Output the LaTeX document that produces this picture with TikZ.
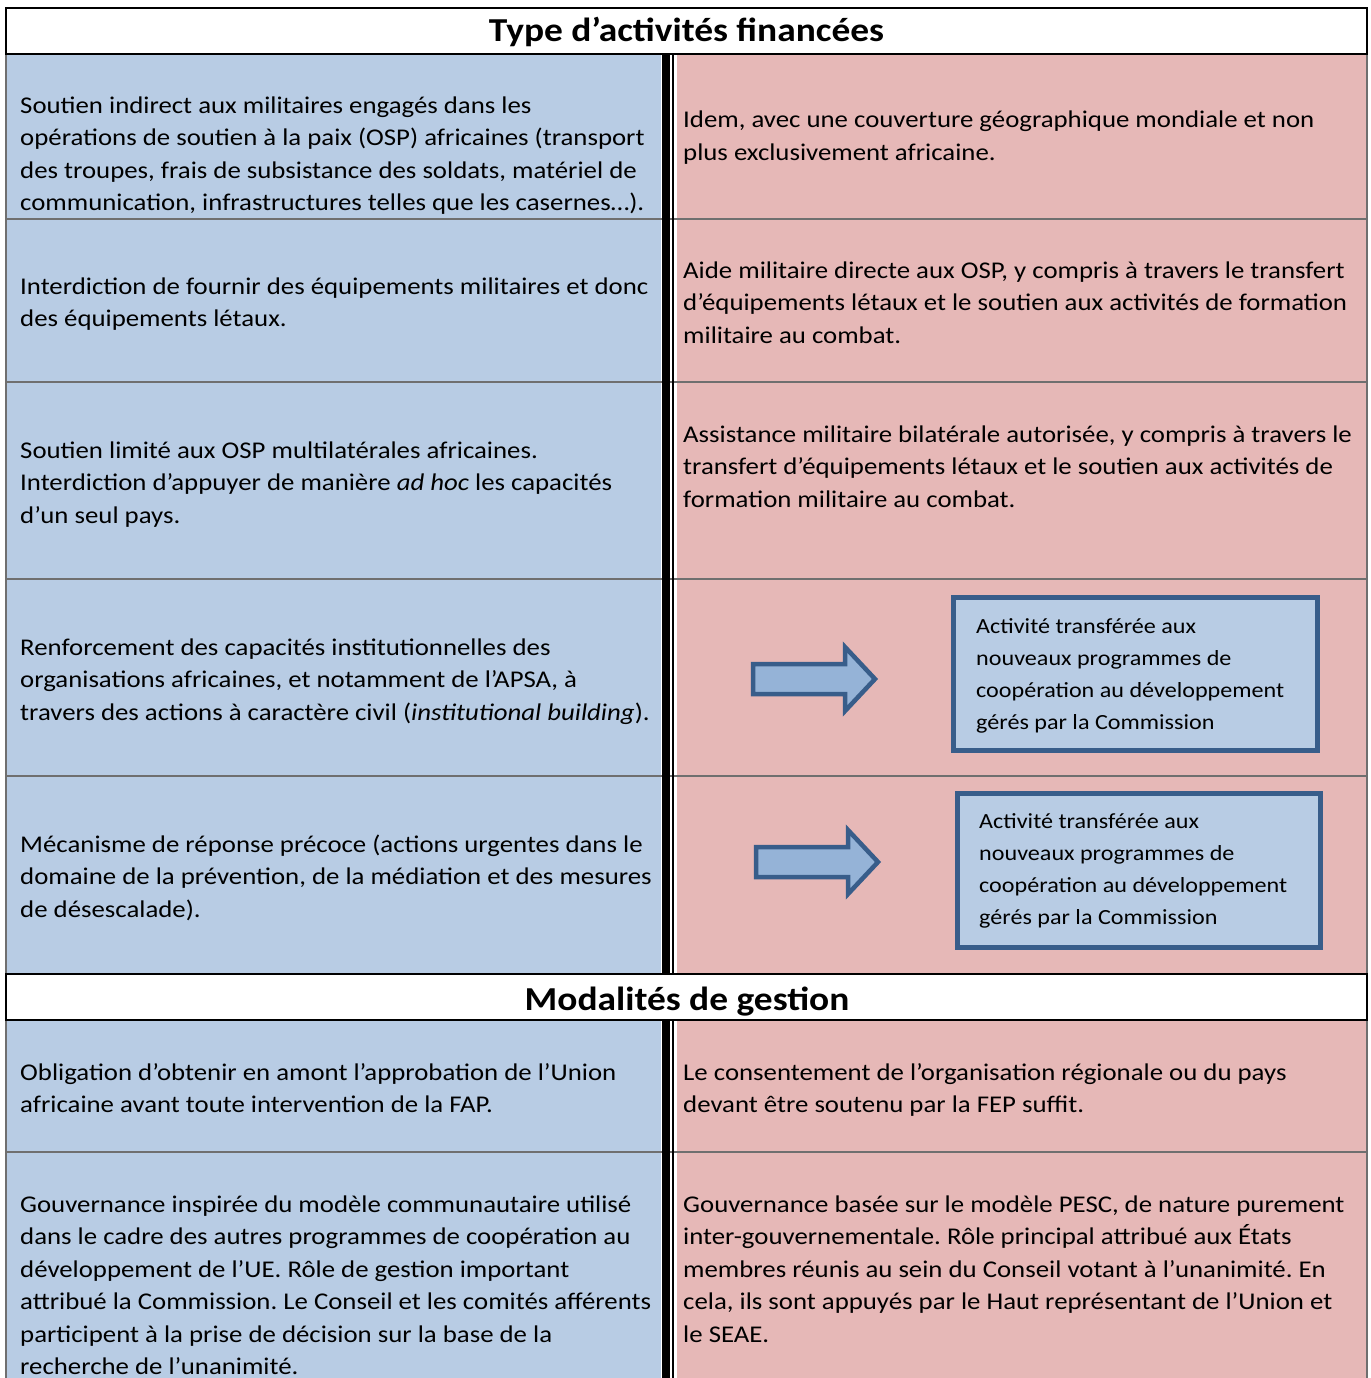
\documentclass[tikz,border=0pt]{standalone}
\usepackage{fontspec}
\setmainfont{Carlito}[FakeStretch=1.117]
\usepackage{tikz}
\frenchspacing

\definecolor{cellblue}{HTML}{B8CCE4}
\definecolor{cellpink}{HTML}{E6B8B7}
\definecolor{rulegray}{HTML}{6F6F6F}
\definecolor{arrowfill}{HTML}{95B3D7}
\definecolor{arrowline}{HTML}{385D8A}

\begin{document}
\begin{tikzpicture}[x=1pt,y=-1pt,
  celltext/.style={inner sep=0pt,anchor=base west,align=left,font=\fontsize{24}{32.5}\selectfont},
  boxtext/.style={inner sep=0pt,anchor=base west,align=left,font=\fontsize{21.6}{32}\selectfont},
  headtext/.style={inner sep=0pt,anchor=base,font=\fontsize{33.5}{38}\selectfont\bfseries},
  transfer/.style={draw=arrowline,line width=5pt,fill=cellblue},
  bigarrow/.style={draw=arrowline,line width=4.5pt,fill=arrowfill,line join=miter}]
\useasboundingbox (0,0) rectangle (1370,1378);
\clip (0,0) rectangle (1370,1378);
\fill[white] (0,0) rectangle (1370,1378);

% cells
\fill[cellblue] (6,54) rectangle (661,973);
\fill[cellpink] (676.5,54) rectangle (1367,973);
\fill[cellblue] (6,1021) rectangle (661,1380);
\fill[cellpink] (676.5,1021) rectangle (1367,1380);

% rules
\foreach \y in {219,382,579,776,1152}
  \draw[rulegray,line width=2pt] (6,\y) -- (1367,\y);
\draw[rulegray,line width=2pt] (6,54) -- (6,973) (1367,54) -- (1367,973);
\draw[rulegray,line width=2pt] (6,1021) -- (6,1380) (1367,1021) -- (1367,1380);
\draw[line width=8.5pt] (666.2,54) -- (666.2,1380);
\draw[line width=2.5pt] (673.2,54) -- (673.2,1380);

% headers
\draw[line width=2.5pt,fill=white] (6,8) rectangle (1367,54);
\draw[line width=2.5pt,fill=white] (6,974) rectangle (1367,1020);
\node[headtext] (head1) at (686.5,42) {Type d’activités financées};
\node[headtext] (head2) at (687,1010) {Modalités de gestion};

% activities (anchored on the last baseline)
\node[celltext] (act1) at (20,210.5) {Soutien indirect aux militaires engagés dans les\\opérations de soutien à la paix (OSP) africaines (transport\\des troupes, frais de subsistance des soldats, matériel de\\communication, infrastructures telles que les casernes…).};
\node[celltext] (new1) at (683,160.5) {Idem, avec une couverture géographique mondiale et non\\plus exclusivement africaine.};
\node[celltext] (act2) at (20,326.5) {Interdiction de fournir des équipements militaires et donc\\des équipements létaux.};
\node[celltext] (new2) at (683,343) {Aide militaire directe aux OSP, y compris à travers le transfert\\d’équipements létaux et le soutien aux activités de formation\\militaire au combat.};
\node[celltext] (act3) at (20,523) {Soutien limité aux OSP multilatérales africaines.\\Interdiction d’appuyer de manière \emph{ad hoc} les capacités\\d’un seul pays.};
\node[celltext] (new3) at (683,507) {Assistance militaire bilatérale autorisée, y compris à travers le\\transfert d’équipements létaux et le soutien aux activités de\\formation militaire au combat.};
\node[celltext] (act4) at (20,720) {Renforcement des capacités institutionnelles des\\organisations africaines, et notamment de l’APSA, à\\travers des actions à caractère civil (\emph{institutional building}).};
\node[celltext] (act5) at (20,917) {Mécanisme de réponse précoce (actions urgentes dans le\\domaine de la prévention, de la médiation et des mesures\\de désescalade).};

% transferred activities
\draw[transfer] (953.5,597.5) rectangle (1317.5,750.5);
\node[boxtext] (new4) at (976,729) {Activité transférée aux\\nouveaux programmes de\\coopération au développement\\gérés par la Commission};
\draw[transfer] (957.5,793.5) rectangle (1320.5,947.5);
\node[boxtext] (new5) at (979,924) {Activité transférée aux\\nouveaux programmes de\\coopération au développement\\gérés par la Commission};
\draw[bigarrow] (753,664) -- (845,664) -- (845,647) -- (875,679) -- (845,711) -- (845,694) -- (753,694) -- cycle;
\draw[bigarrow] (756,847) -- (848,847) -- (848,830) -- (878,862) -- (848,894) -- (848,877) -- (756,877) -- cycle;

% management
\node[celltext] (mgt1) at (20,1112.5) {Obligation d’obtenir en amont l’approbation de l’Union\\africaine avant toute intervention de la FAP.};
\node[celltext] (fep1) at (683,1112.5) {Le consentement de l’organisation régionale ou du pays\\devant être soutenu par la FEP suffit.};
\node[celltext] (mgt2) at (20,1374.5) {Gouvernance inspirée du modèle communautaire utilisé\\dans le cadre des autres programmes de coopération au\\développement de l’UE. Rôle de gestion important\\attribué la Commission. Le Conseil et les comités afférents\\participent à la prise de décision sur la base de la\\recherche de l’unanimité.};
\node[celltext] (fep2) at (683,1342) {Gouvernance basée sur le modèle PESC, de nature purement\\inter-gouvernementale. Rôle principal attribué aux États\\membres réunis au sein du Conseil votant à l’unanimité. En\\cela, ils sont appuyés par le Haut représentant de l’Union et\\le SEAE.};
\end{tikzpicture}
\end{document}
